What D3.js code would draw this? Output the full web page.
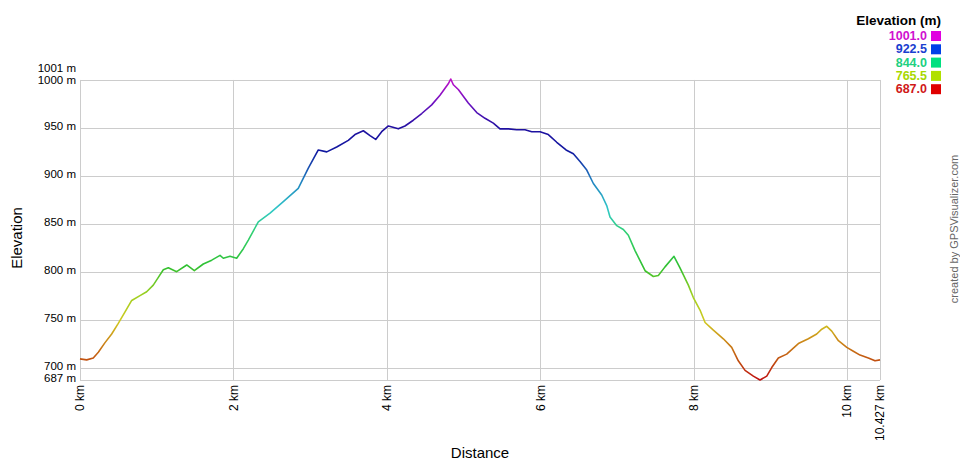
<!DOCTYPE html>
<html><head><meta charset="utf-8">
<script src="https://cdn.jsdelivr.net/npm/d3@7"></script>
<style>
html,body{margin:0;padding:0;background:#fff;}
svg{display:block;font-family:Arial,"Liberation Sans",sans-serif;}
</style></head>
<body><svg id="chart" width="960" height="460"></svg>
<script>
// ---- data ----
const distKm = [0.000,0.087,0.173,0.239,0.326,0.413,0.499,0.587,0.674,0.782,0.869,0.955,1.021,1.086,1.151,1.260,1.391,1.490,1.607,1.717,1.825,1.868,1.955,2.042,2.129,2.194,2.324,2.477,2.650,2.845,2.976,3.106,3.216,3.346,3.497,3.584,3.693,3.780,3.854,3.932,4.019,4.149,4.236,4.344,4.454,4.584,4.692,4.800,4.832,4.866,4.931,5.061,5.171,5.279,5.387,5.474,5.583,5.692,5.800,5.888,5.996,6.104,6.214,6.335,6.430,6.517,6.605,6.691,6.800,6.865,6.908,6.996,7.082,7.147,7.234,7.365,7.473,7.538,7.625,7.742,7.820,7.929,7.994,8.081,8.147,8.255,8.385,8.494,8.580,8.668,8.776,8.863,8.951,9.016,9.102,9.211,9.363,9.493,9.602,9.668,9.733,9.798,9.885,9.994,10.080,10.167,10.275,10.362,10.427];
const elevM = [709,708,710,716,726,735,746,758,770,775,779,786,794,802,804,800,807,801,808,812,817,814,816,814,824,833,852,861,873,887,908,927,925,930,937,943,947,942,938,946,952,949,952,958,965,974,984,996,1001,995,990,976,966,960,955,949,949,948,948,946,946,943,935,927,923,915,906,892,880,869,857,848,844,838,822,801,795,796,805,816,804,786,773,760,747,739,730,721,707,697,691,687,691,700,710,714,725,730,735,740,743,738,728,721,717,713,710,707,708];
const xTicks = [0,2,4,6,8,10,10.427];
const xTickLabels = ["0 km","2 km","4 km","6 km","8 km","10 km","10.427 km"];
const yTicks = [687,700,750,800,850,900,950,1000,1001];
const yTickLabels = ["687 m","700 m","750 m","800 m","850 m","900 m","950 m","1000 m","1001 m"];
const legendValues = ["1001.0","922.5","844.0","765.5","687.0"];
const legendTextColors = ["#d010d0","#1a40d0","#20d080","#a8d800","#d01818"];
const legendBoxColors = ["#e000e0","#0040e8","#00e080","#b0e000","#e00000"];
const lineStopElev = [687,705,728,748,775,805,840,865,895,925,950,975,1001];
const lineStopColor = ["#c01010","#c04a10","#cc8a18","#d0c820","#a0d020","#30c030","#30d070","#30c8c8","#2080c0","#1018a0","#2010a0","#6a10c0","#c010c8"];

// ---- layout ----
const svg = d3.select("#chart");
const x = d3.scaleLinear().domain([0,10.427]).range([80,880]);
const y = d3.scaleLinear().domain([687,1001]).range([380,79]);
const grid = "#cccccc";

// grid lines
svg.append("g").selectAll("line").data(yTicks.filter(v=>v!==1001)).join("line")
  .attr("x1",x(0)).attr("x2",x(10.427))
  .attr("y1",d=>Math.round(y(d))+0.5).attr("y2",d=>Math.round(y(d))+0.5)
  .attr("stroke",grid).attr("stroke-width",1);
svg.append("g").selectAll("line").data(xTicks).join("line")
  .attr("x1",d=>Math.round(x(d))+0.5).attr("x2",d=>Math.round(x(d))+0.5)
  .attr("y1",y(1000)).attr("y2",y(687))
  .attr("stroke",grid).attr("stroke-width",1);

// y labels
svg.append("g").selectAll("text").data(yTicks).join("text")
  .attr("x",76)
  .attr("y",(d)=> y(d) + (d===1001 ? -11 : (d===1000 ? 0 : -2)))
  .attr("dy","0.35em")
  .attr("text-anchor","end")
  .attr("font-size","11.5px").attr("fill","#000")
  .text((d,i)=>yTickLabels[i]);

// x labels (rotated)
svg.append("g").selectAll("text").data(xTicks).join("text")
  .attr("transform",d=>`translate(${x(d)},385) rotate(-90)`)
  .attr("dy","0.35em")
  .attr("text-anchor","end")
  .attr("font-size","12px").attr("fill","#000")
  .text((d,i)=>xTickLabels[i]);

// axis titles
svg.append("text").attr("transform","translate(22,238) rotate(-90)")
  .attr("text-anchor","middle").attr("font-size","15px").attr("fill","#000").text("Elevation");
svg.append("text").attr("x",480).attr("y",458)
  .attr("text-anchor","middle").attr("font-size","15px").attr("fill","#000").text("Distance");

// gradient by elevation
const defs = svg.append("defs");
const grad = defs.append("linearGradient").attr("id","elevGrad")
  .attr("gradientUnits","userSpaceOnUse")
  .attr("x1",0).attr("x2",0).attr("y1",y(687)).attr("y2",y(1001));
grad.selectAll("stop").data(lineStopElev).join("stop")
  .attr("offset",d=>(d-687)/(1001-687))
  .attr("stop-color",(d,i)=>lineStopColor[i]);

const pts = distKm.map((d,i)=>[d,elevM[i]]);
svg.append("path").datum(pts)
  .attr("d",d3.line().x(d=>x(d[0])).y(d=>y(d[1])))
  .attr("fill","none").attr("stroke","url(#elevGrad)")
  .attr("stroke-width",1.6).attr("stroke-linejoin","round");

// legend
svg.append("text").attr("x",941).attr("y",25).attr("text-anchor","end")
  .attr("font-size","13.5px").attr("font-weight","bold").attr("fill","#000").text("Elevation (m)");
const lg = svg.append("g");
lg.selectAll("text").data(legendValues).join("text")
  .attr("x",927).attr("y",(d,i)=>40+i*13.3)
  .attr("text-anchor","end").attr("font-size","12.5px").attr("font-weight","bold")
  .attr("fill",(d,i)=>legendTextColors[i]).text(d=>d);
lg.selectAll("rect").data(legendValues).join("rect")
  .attr("x",931).attr("y",(d,i)=>31+i*13.3).attr("width",10).attr("height",10)
  .attr("fill",(d,i)=>legendBoxColors[i]);

// credit
svg.append("text").attr("transform","translate(958,229) rotate(-90)")
  .attr("text-anchor","middle").attr("font-size","11px").attr("fill","#666")
  .text("created by GPSVisualizer.com");
</script></body></html>
